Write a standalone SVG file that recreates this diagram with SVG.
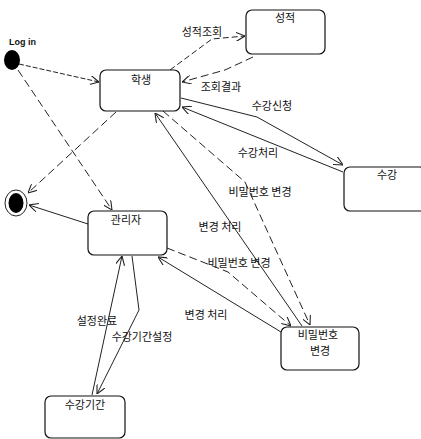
<svg xmlns="http://www.w3.org/2000/svg" width="421" height="439" viewBox="0 0 421 439">
<style>
.box{fill:#fff;stroke:#111;stroke-width:1.2}
.lbl{font-family:"Noto Sans CJK KR","Noto Sans",sans-serif;font-size:11px;fill:#111;text-anchor:middle}
.c{fill:none;stroke:#222;stroke-width:1;marker-end:url(#arr)}
.d1{stroke-dasharray:8,4}
.d2{stroke-dasharray:5,2}
.d3{stroke-dasharray:6,3}
</style>
<defs>
<marker id="arr" viewBox="0 0 10 10" refX="10" refY="5" markerWidth="9" markerHeight="9" markerUnits="userSpaceOnUse" orient="auto">
<path d="M0,0 L10,5 L0,10" fill="none" stroke="#222" stroke-width="1.2"/>
</marker>
</defs>
<rect width="421" height="439" fill="#fff"/>
<g id="connectors">
<path class="c d2" d="M19,64 L99,82"/>
<path class="c d1" d="M18,70 L112,210"/>
<path class="c d1" d="M116,112 L28,193"/>
<path class="c" d="M88,224 L29,205"/>
<path class="c d3" d="M170,70 L212,39 L245,36"/>
<path class="c d1" d="M253,57 L225,70 L182,82"/>
<path class="c" d="M181,98 L257,117 L343,165"/>
<path class="c" d="M343,172 L182,107"/>
<path class="c" d="M302,326 L155,113"/>
<path class="c d1" d="M163,111 L245,182 L310,325"/>
<path class="c d1" d="M167,248 L228,272 L291,326"/>
<path class="c" d="M281,332 L158,257"/>
<path class="c" d="M92,395 L122,256"/>
<path class="c" d="M132,256 L139,310 L97,394"/>
<text class="lbl" x="202" y="36">성적조회</text>
<text class="lbl" x="221" y="91">조회결과</text>
<text class="lbl" x="272" y="110">수강신청</text>
<text class="lbl" x="258" y="157">수강처리</text>
<text class="lbl" x="260" y="196">비밀번호 변경</text>
<text class="lbl" x="220" y="231">변경 처리</text>
<text class="lbl" x="239" y="267">비밀번호 변경</text>
<text class="lbl" x="206" y="319">변경 처리</text>
<text class="lbl" x="97" y="325">설정완료</text>
<text class="lbl" x="142" y="341">수강기간설정</text>
</g>
<g id="initial">
<ellipse cx="12" cy="60" rx="8" ry="10" fill="#000"/>
<text x="9" y="45" font-family="Liberation Sans,Arial,sans-serif" font-size="9" font-weight="bold" fill="#111">Log in</text>
</g>
<g id="final">
<ellipse cx="16" cy="203" rx="11" ry="13" fill="none" stroke="#222" stroke-width="1"/>
<ellipse cx="16" cy="203" rx="7.5" ry="10" fill="#000"/>
</g>
<g id="student">
<rect class="box" x="100" y="70" width="80" height="41" rx="6"/>
<text class="lbl" x="141" y="84">학생</text>
</g>
<g id="grade">
<rect class="box" x="246" y="10" width="79" height="44" rx="6"/>
<text class="lbl" x="285" y="22">성적</text>
</g>
<g id="course">
<rect class="box" x="344" y="167" width="82" height="44" rx="6"/>
<text class="lbl" x="387" y="179">수강</text>
</g>
<g id="admin">
<rect class="box" x="88" y="211" width="79" height="44" rx="6"/>
<text class="lbl" x="126" y="224">관리자</text>
</g>
<g id="password">
<rect class="box" x="281" y="327" width="78" height="43" rx="6"/>
<text class="lbl" x="318" y="339">비밀번호</text>
<text class="lbl" x="320" y="355">변경</text>
</g>
<g id="period">
<rect class="box" x="45" y="396" width="80" height="42" rx="6"/>
<text class="lbl" x="85" y="409">수강기간</text>
</g>
</svg>
